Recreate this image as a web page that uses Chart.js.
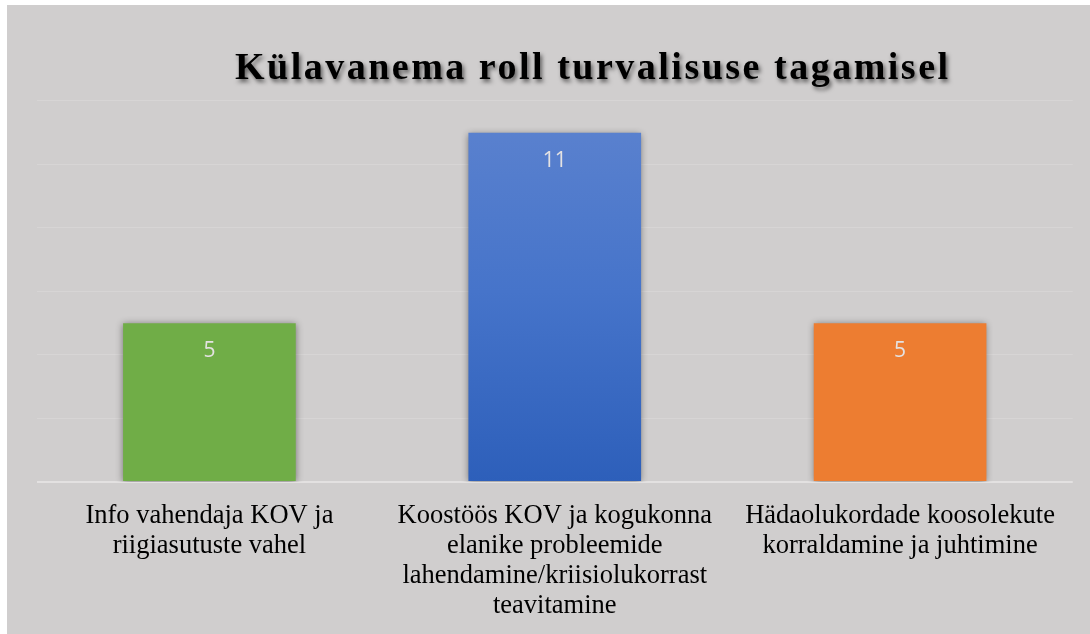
<!DOCTYPE html>
<html>
<head>
<meta charset="utf-8">
<script src="https://cdn.jsdelivr.net/npm/chart.js@4/dist/chart.umd.min.js"></script>
<style>
  html, body { margin: 0; padding: 0; background: #ffffff; }
  #wrap { position: absolute; left: 7px; top: 5px; width: 1083px; height: 629px; background: #d0cece; }
  canvas { display: block; }
</style>
</head>
<body>
<div id="wrap"><canvas id="c" width="1083" height="629"></canvas></div>
<script>
const chartTitle = "Külavanema roll turvalisuse tagamisel";
const categories = [
  ["Info vahendaja KOV ja", "riigiasutuste vahel"],
  ["Koostöös KOV ja kogukonna", "elanike probleemide", "lahendamine/kriisiolukorrast", "teavitamine"],
  ["Hädaolukordade koosolekute", "korraldamine ja juhtimine"]
];
const values = [5, 11, 5];
const barColors = ["#70ad47", "blue-gradient", "#ed7d31"];
const yTicks = { min: 0, max: 12, step: 2 };

function barFill(ctx) {
  const c = barColors[ctx.dataIndex];
  if (c !== "blue-gradient") return c;
  const chart = ctx.chart;
  const area = chart.chartArea;
  if (!area) return "#4472c4";
  const el = ctx.element;
  const y0 = el && isFinite(el.y) ? el.y : area.top;
  const y1 = el && isFinite(el.base) ? el.base : area.bottom;
  const g = chart.ctx.createLinearGradient(0, y0, 0, y1);
  g.addColorStop(0, "#5d83cf");
  g.addColorStop(0.5, "#4674ca");
  g.addColorStop(1, "#2d5fba");
  return g;
}

const shadowPlugin = {
  id: "barShadow",
  beforeDatasetsDraw(chart) {
    const ctx = chart.ctx;
    ctx.save();
    ctx.shadowColor = "rgba(0,0,0,0.45)";
    ctx.shadowBlur = 7;
    ctx.shadowOffsetX = 0;
    ctx.shadowOffsetY = 1;
  },
  afterDatasetsDraw(chart) {
    chart.ctx.restore();
  }
};

const labelPlugin = {
  id: "valueLabels",
  afterDatasetsDraw(chart) {
    const ctx = chart.ctx;
    const meta = chart.getDatasetMeta(0);
    ctx.save();
    ctx.font = "21px 'Open Sans', 'Noto Sans', sans-serif";
    ctx.fillStyle = "#e4e2e2";
    ctx.textAlign = "center";
    ctx.textBaseline = "middle";
    meta.data.forEach((el, i) => {
      ctx.fillText(String(values[i]), el.x, el.y + 28);
    });
    ctx.restore();
  }
};

const titlePlugin = {
  id: "customTitle",
  afterDraw(chart) {
    const ctx = chart.ctx;
    const area = chart.chartArea;
    ctx.save();
    ctx.font = "bold 38px 'Liberation Serif', 'Times New Roman', serif";
    if ('letterSpacing' in ctx) ctx.letterSpacing = "2.5px";
    ctx.fillStyle = "#000000";
    ctx.textAlign = "center";
    ctx.textBaseline = "alphabetic";
    ctx.shadowColor = "rgba(0,0,0,0.55)";
    ctx.shadowBlur = 4;
    ctx.shadowOffsetX = 2;
    ctx.shadowOffsetY = 3;
    const cx = (area.left + area.right) / 2 + 38;
    ctx.fillText(chartTitle, cx, 74);
    ctx.restore();
  }
};

new Chart(document.getElementById("c"), {
  type: "bar",
  data: {
    labels: categories,
    datasets: [{
      data: values,
      backgroundColor: barFill,
      borderWidth: 0,
      barPercentage: 0.5,
      categoryPercentage: 1.0
    }]
  },
  options: {
    responsive: false,
    animation: false,
    devicePixelRatio: 1,
    layout: { padding: { left: 29.75, right: 17.25, top: 95.9, bottom: 0 } },
    plugins: {
      legend: { display: false },
      title: { display: false },
      tooltip: { enabled: false }
    },
    scales: {
      x: {
        grid: { display: false, drawTicks: false },
        border: { display: false },
        afterFit: (scale) => { scale.height = 152; },
        ticks: {
          color: "#000000",
          font: { family: "'Liberation Serif', 'Times New Roman', serif", size: 26.5, lineHeight: 1.132 },
          padding: 19,
          maxRotation: 0,
          autoSkip: false
        }
      },
      y: {
        min: yTicks.min,
        max: yTicks.max,
        ticks: { stepSize: yTicks.step, display: false },
        border: { display: false },
        grid: {
          drawTicks: false,
          color: (c) => c.tick && c.tick.value === 0 ? "#e3e1e1" : "#d7d5d5",
          lineWidth: (c) => c.tick && c.tick.value === 0 ? 2 : 1
        }
      }
    }
  },
  plugins: [shadowPlugin, labelPlugin, titlePlugin]
});
</script>
</body>
</html>
